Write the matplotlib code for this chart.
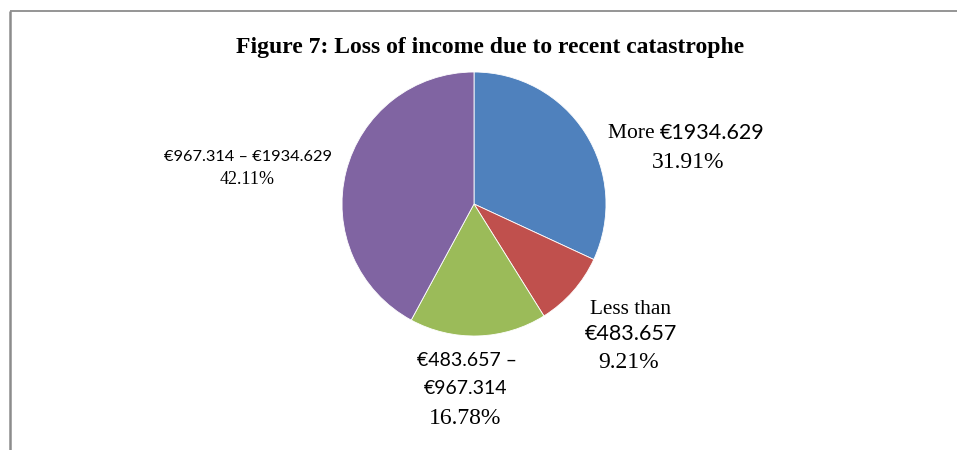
import matplotlib
matplotlib.use('Agg')
import matplotlib.pyplot as plt

# Data
categories = ['More €1934.629', 'Less than €483.657', '€483.657 – €967.314', '€967.314 – €1934.629']
shares = [31.91, 9.21, 16.78, 42.11]
colors = ['#4F81BD', '#C0504D', '#9BBB59', '#8064A2']
pct_labels = ['%.2f%%' % s for s in shares]

W, H = 957, 450
fig = plt.figure(figsize=(W / 100, H / 100), dpi=100)
ax = fig.add_axes([0, 0, 1, 1])

# pixel-like data space, y downwards
ax.pie(shares, colors=colors, startangle=-90, counterclock=True,
       center=(474, 204), radius=132,
       wedgeprops=dict(edgecolor='white', linewidth=0.6))
ax.set_xlim(0, W)
ax.set_ylim(H, 0)
ax.set_aspect('equal')
ax.axis('off')

# frame lines like the source document
ax.plot([10, W], [11, 11], color='#8c8c8c', lw=1.3, solid_capstyle='butt')
ax.plot([10, 10], [11, H], color='#8c8c8c', lw=1.8, solid_capstyle='butt')

serif = 'Liberation Serif'
sans = 'Lato'

ax.text(490, 47, 'Figure 7: Loss of income due to recent catastrophe',
        family=serif, fontsize=17, fontweight='bold', ha='center', va='center')

# More €1934.629
ax.text(660, 133, 'More ', family=serif, fontsize=15.5, ha='right', va='center')
ax.text(660, 133, '€1934.629', family=sans, fontsize=15.5, ha='left', va='center')
ax.text(688, 162, pct_labels[0], family=serif, fontsize=17, ha='center', va='center')

# Less than €483.657
ax.text(631, 309, 'Less than', family=serif, fontsize=15.3, ha='center', va='center')
ax.text(631, 334, '€483.657', family=sans, fontsize=15.5, ha='center', va='center')
ax.text(629, 362, pct_labels[1], family=serif, fontsize=17, ha='center', va='center')

# €483.657 – €967.314
ax.text(467, 360, '€483.657 –', family=sans, fontsize=14, ha='center', va='center')
ax.text(466, 389, '€967.314', family=sans, fontsize=14, ha='center', va='center')
ax.text(465, 418, pct_labels[2], family=serif, fontsize=17, ha='center', va='center')

# €967.314 – €1934.629
ax.text(248, 157, categories[3], family=sans, fontsize=11.8, ha='center', va='center')
ax.text(247, 180, pct_labels[3], family=serif, fontsize=13, ha='center', va='center')

plt.savefig('out.png', dpi=100)
plt.close()
